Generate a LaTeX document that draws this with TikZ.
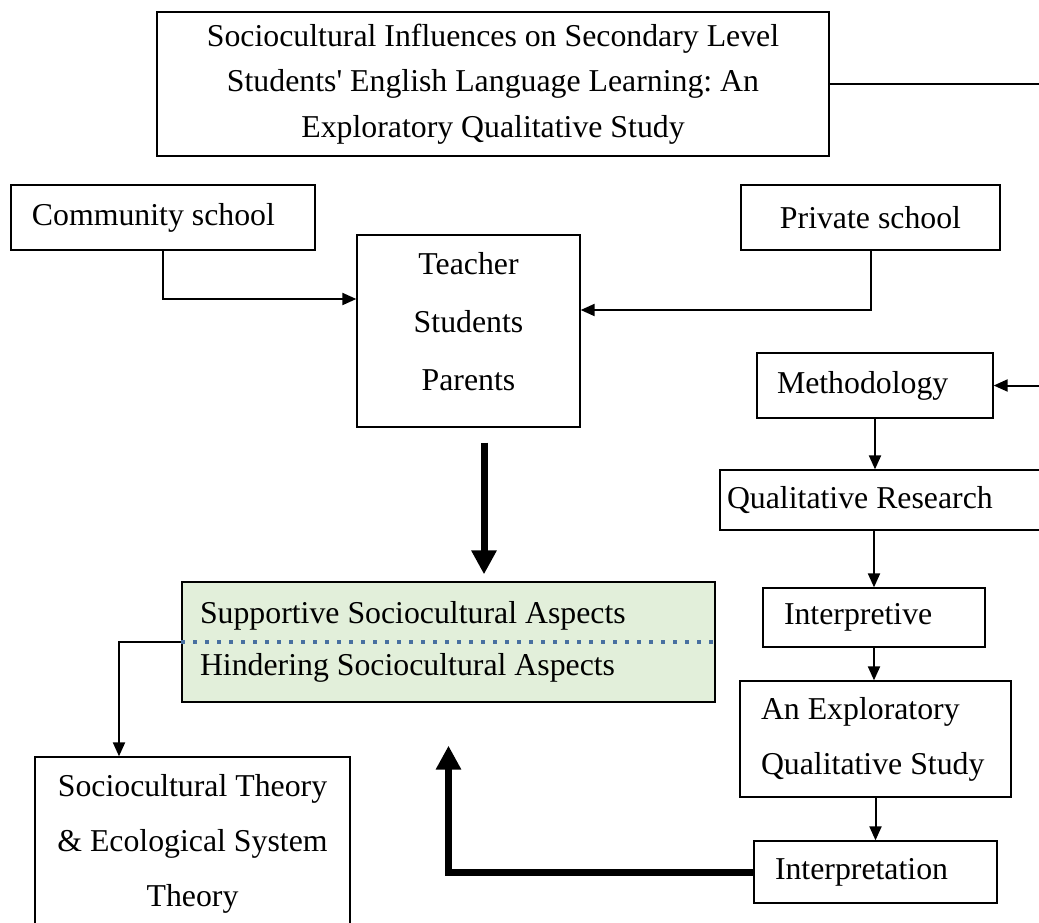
\documentclass[tikz,border=0pt]{standalone}
\usepackage{fontspec}
\setmainfont{Liberation Serif}
\usetikzlibrary{arrows.meta}
\definecolor{aspectfill}{RGB}{226,239,218}
\definecolor{dotblue}{RGB}{72,112,160}
\frenchspacing
\begin{document}
\begin{tikzpicture}[x=0.5pt, y=-0.5pt,
      every node/.style={font=\fontsize{15.9pt}{22.75pt}\selectfont},
      box/.style={draw, line width=0.65pt, inner ysep=0pt, align=flush center},
      lbox/.style={box, align=flush left},
      arrow/.style={-{Triangle[length=7pt,width=6pt]}, line width=1pt},
      bigarrow/.style={-{Triangle[length=12pt,width=12pt]}, line width=3.5pt}]
    \useasboundingbox (0,0) rectangle (1039,922);
    \clip (0,0) rectangle (1039,922);
    \node[box, minimum width=336pt, minimum height=72pt, text width=320pt, inner xsep=8pt] (title) at (493,84)
      {Sociocultural Influences on Secondary Level\\Students\textquotesingle{} English Language Learning: An\\Exploratory Qualitative Study};
    \node[lbox, minimum height=32.5pt, text width=131pt, inner xsep=10.5pt] (comm) at (163,217.5) {Community school};
    \node[box, minimum height=32.5pt, text width=109.5pt, inner xsep=10pt] (priv) at (870.5,217.5) {Private school};
    \node[box, minimum height=96pt, text width=91.5pt, inner xsep=10pt, text depth=68pt,
          font=\fontsize{15.9pt}{29pt}\selectfont] (actors) at (468.5,331) {Teacher\\Students\\Parents};
    \node[lbox, fill=aspectfill, minimum height=60pt, text width=248.5pt, inner xsep=9pt,
          font=\fontsize{15.9pt}{26pt}\selectfont] (aspects) at (448.5,642)
      {Supportive Sociocultural Aspects\\Hindering Sociocultural Aspects};
    \node[box, minimum height=86.5pt, text width=141.5pt, inner xsep=8pt,
          font=\fontsize{15.9pt}{27.5pt}\selectfont] (theory) at (192.5,843.5)
      {Sociocultural Theory\\\& Ecological System\\Theory};
    \node[lbox, minimum height=32.5pt, text width=98pt, inner xsep=10pt] (method) at (875,385.5) {Methodology};
    \node[lbox, minimum height=30pt, text width=158pt, inner xsep=3.5pt] (qual) at (885,500) {Qualitative Research};
    \node[lbox, minimum height=29.5pt, text width=90pt, inner xsep=10.5pt] (interp) at (874,617.5) {Interpretive};
    \node[lbox, minimum height=58pt, text width=114.5pt, inner xsep=10.5pt,
          font=\fontsize{15.9pt}{27.5pt}\selectfont] (explor) at (875.5,739) {An Exploratory\\Qualitative Study};
    \node[lbox, minimum height=31pt, text width=100.5pt, inner xsep=10.5pt] (interpn) at (875.5,872) {Interpretation};
    \coordinate (rim) at (1045,84);
    \draw[arrow] (title.east) -- (rim) |- (method.east);
    \draw[arrow] (comm.south) |- ([yshift=16pt]actors.west);
    \draw[arrow] (priv.south) |- ([yshift=10.5pt]actors.east);
    \draw[bigarrow] ([xshift=7.75pt,yshift=-7.5pt]actors.south) -- ([xshift=17.75pt,yshift=3.5pt]aspects.north);
    \draw[dotblue, line width=2pt, dash pattern=on 2pt off 4pt] (aspects.west) -- (aspects.east);
    \draw[arrow] (aspects.west) -| ([xshift=-36.75pt]theory.north);
    \draw[bigarrow] (interpn.west) -| ([yshift=-21.5pt]aspects.south);
    \draw[arrow] (method.south) -- (method.south |- qual.north);
    \draw[arrow] (interp.north |- qual.south) -- (interp.north);
    \draw[arrow] (interp.south) -- (interp.south |- explor.north);
    \draw[arrow] (explor.south) -- (explor.south |- interpn.north);
  \end{tikzpicture}
\end{document}
